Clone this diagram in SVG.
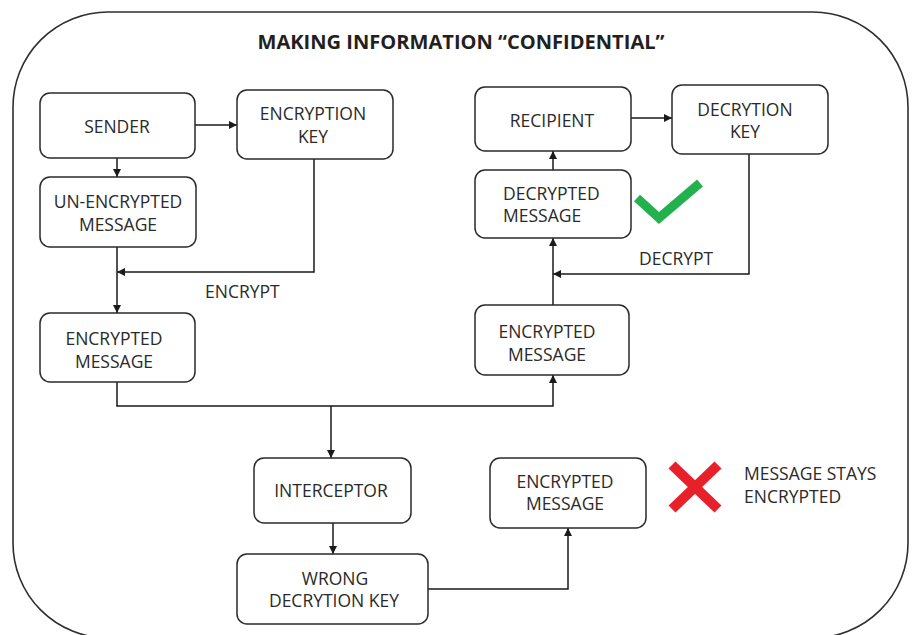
<svg xmlns="http://www.w3.org/2000/svg" width="912" height="635" viewBox="0 0 912 635">
  <defs>
    <marker id="arrow" viewBox="0 0 10 10" refX="10" refY="5" markerWidth="8" markerHeight="8" markerUnits="userSpaceOnUse" orient="auto">
      <path d="M0,0 L10,5 L0,10 z" fill="#1a1a1a"/>
    </marker>
    <style>
      .frame { fill: #ffffff; stroke: #2e2e2e; stroke-width: 1.6; }
      .box { fill: #ffffff; stroke: #2a2a2a; stroke-width: 1.5; }
      .lbl { font-family: "Open Sans", "Noto Sans", sans-serif; font-size: 17.5px; fill: #2a2a2a; text-anchor: middle; }
      .note { font-family: "Open Sans", "Noto Sans", sans-serif; font-size: 17.5px; fill: #2a2a2a; }
      .title { font-family: "Open Sans", "Noto Sans", sans-serif; font-size: 19px; font-weight: 700; fill: #231f20; text-anchor: middle; }
      .wire { fill: none; stroke: #1a1a1a; stroke-width: 1.5; }
    </style>
  </defs>

  <rect width="912" height="635" fill="#ffffff"/>

  <!-- outer rounded frame -->
  <rect class="frame" x="13" y="12" width="895" height="626" rx="95" ry="95"/>

  <text class="title" x="461" y="49" textLength="407" lengthAdjust="spacingAndGlyphs">MAKING INFORMATION “CONFIDENTIAL”</text>

  <!-- connectors -->
  <g id="connectors">
    <line class="wire" x1="195" y1="125" x2="237" y2="125" marker-end="url(#arrow)"/>
    <line class="wire" x1="117" y1="158" x2="117" y2="177" marker-end="url(#arrow)"/>
    <line class="wire" x1="117" y1="247" x2="117" y2="313" marker-end="url(#arrow)"/>
    <polyline class="wire" points="314,159 314,272 117,272" marker-end="url(#arrow)"/>
    <polyline class="wire" points="117,382 117,406 553,406 553,375" marker-end="url(#arrow)"/>
    <line class="wire" x1="331" y1="406" x2="331" y2="458" marker-end="url(#arrow)"/>
    <line class="wire" x1="553" y1="305" x2="553" y2="238" marker-end="url(#arrow)"/>
    <polyline class="wire" points="749,154 749,274 553,274" marker-end="url(#arrow)"/>
    <line class="wire" x1="553" y1="170" x2="553" y2="151" marker-end="url(#arrow)"/>
    <line class="wire" x1="631" y1="118" x2="672" y2="118" marker-end="url(#arrow)"/>
    <line class="wire" x1="333" y1="523" x2="333" y2="554" marker-end="url(#arrow)"/>
    <polyline class="wire" points="428,589 568,589 568,528" marker-end="url(#arrow)"/>
    <text class="note" x="205" y="298">ENCRYPT</text>
    <text class="note" x="639" y="265">DECRYPT</text>
  </g>

  <g id="sender">
    <rect class="box" x="40" y="93" width="155" height="65" rx="10"/>
    <text class="lbl" x="117" y="133">SENDER</text>
  </g>

  <g id="encryption-key">
    <rect class="box" x="237" y="90" width="156" height="69" rx="10"/>
    <text class="lbl" x="313" y="120">ENCRYPTION</text>
    <text class="lbl" x="313" y="143">KEY</text>
  </g>

  <g id="unencrypted-message">
    <rect class="box" x="40" y="177" width="156" height="70" rx="10"/>
    <text class="lbl" x="118" y="208">UN-ENCRYPTED</text>
    <text class="lbl" x="118" y="231">MESSAGE</text>
  </g>

  <g id="encrypted-message-sent">
    <rect class="box" x="40" y="313" width="155" height="69" rx="10"/>
    <text class="lbl" x="114" y="345">ENCRYPTED</text>
    <text class="lbl" x="114" y="368">MESSAGE</text>
  </g>

  <g id="recipient">
    <rect class="box" x="475" y="87" width="156" height="64" rx="10"/>
    <text class="lbl" x="552" y="127">RECIPIENT</text>
  </g>

  <g id="decryption-key">
    <rect class="box" x="672" y="85" width="156" height="69" rx="10"/>
    <text class="lbl" x="745" y="116">DECRYTION</text>
    <text class="lbl" x="745" y="138">KEY</text>
  </g>

  <g id="decrypted-message">
    <rect class="box" x="475" y="170" width="156" height="68" rx="10"/>
    <text class="note" x="503" y="200">DECRYPTED</text>
    <text class="note" x="503" y="222">MESSAGE</text>
  </g>

  <g id="check">
    <polyline points="637,198 659,218 700,183" fill="none" stroke="#22b14c" stroke-width="9"/>
  </g>

  <g id="encrypted-message-received">
    <rect class="box" x="475" y="305" width="154" height="70" rx="10"/>
    <text class="lbl" x="547" y="338">ENCRYPTED</text>
    <text class="lbl" x="547" y="361">MESSAGE</text>
  </g>

  <g id="interceptor">
    <rect class="box" x="254" y="458" width="157" height="65" rx="10"/>
    <text class="lbl" x="331" y="497">INTERCEPTOR</text>
  </g>

  <g id="wrong-key">
    <rect class="box" x="237" y="554" width="191" height="70" rx="10"/>
    <text class="lbl" x="335" y="585">WRONG</text>
    <text class="lbl" x="334" y="607">DECRYTION KEY</text>
  </g>

  <g id="encrypted-message-intercepted">
    <rect class="box" x="490" y="458" width="156" height="70" rx="10"/>
    <text class="lbl" x="565" y="488">ENCRYPTED</text>
    <text class="lbl" x="565" y="510">MESSAGE</text>
  </g>

  <g id="cross">
    <line x1="672" y1="465" x2="718" y2="509" stroke="#e8202a" stroke-width="10"/>
    <line x1="718" y1="465" x2="672" y2="509" stroke="#e8202a" stroke-width="10"/>
  </g>

  <g id="stays-encrypted">
    <text class="note" x="744" y="480">MESSAGE STAYS</text>
    <text class="note" x="744" y="503">ENCRYPTED</text>
  </g>
</svg>
